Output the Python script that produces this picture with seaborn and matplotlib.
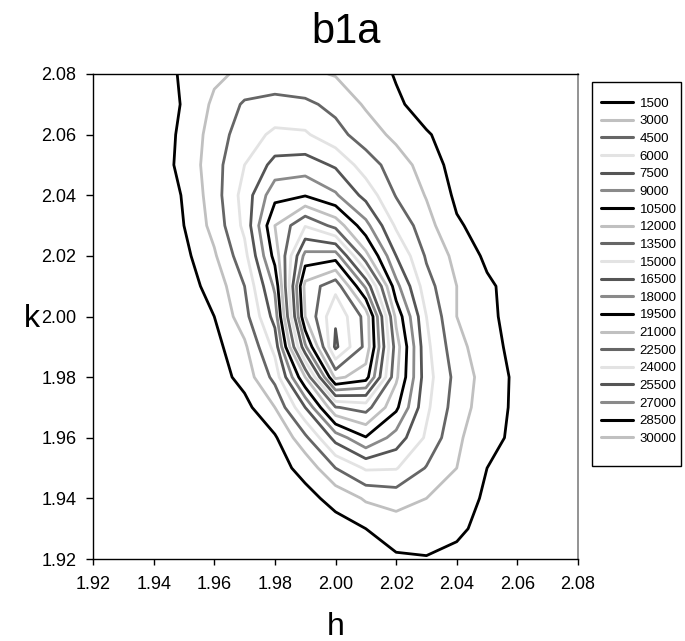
import numpy as np
import matplotlib
matplotlib.use("Agg")
import matplotlib.pyplot as plt
from matplotlib.lines import Line2D
from matplotlib.patches import Rectangle
from matplotlib.ticker import FormatStrFormatter
import seaborn as sns

sns.set_style("ticks")
plt.rcParams['font.family'] = ['Liberation Sans', 'DejaVu Sans']
plt.rcParams['text.color'] = '#000000'
plt.rcParams['axes.labelcolor'] = '#000000'
plt.rcParams['xtick.color'] = '#000000'
plt.rcParams['ytick.color'] = '#000000'

# ---------------- data ----------------
h_values = [1.92, 1.93, 1.94, 1.95, 1.96, 1.97, 1.98, 1.99, 2.00,
            2.01, 2.02, 2.03, 2.04, 2.05, 2.06, 2.07, 2.08]
k_values = [1.92, 1.93, 1.94, 1.95, 1.96, 1.97, 1.98, 1.99, 2.00,
            2.01, 2.02, 2.03, 2.04, 2.05, 2.06, 2.07, 2.08]
levels = [1500, 3000, 4500, 6000, 7500, 9000, 10500, 12000, 13500, 15000,
          16500, 18000, 19500, 21000, 22500, 24000, 25500, 27000, 28500, 30000]
tick_values = [1.92, 1.94, 1.96, 1.98, 2.00, 2.02, 2.04, 2.06, 2.08]

# counts on the (h, k) grid, one row per k value (columns follow h_values)
counts_k192 = [100, 100, 100, 100, 100, 100, 100, 300, 600, 900, 1300, 1400, 1100, 600, 300, 100, 100]
counts_k193 = [100, 100, 100, 100, 100, 100, 200, 500, 1000, 1500, 2200, 2300, 1800, 1000, 500, 200, 100]
counts_k194 = [100, 100, 100, 100, 100, 200, 400, 1100, 1900, 3200, 3600, 3000, 2100, 1300, 600, 300, 100]
counts_k195 = [100, 100, 100, 100, 150, 300, 1000, 1900, 4500, 6200, 6100, 4400, 3000, 1500, 700, 300, 150]
counts_k196 = [100, 100, 100, 150, 300, 700, 1300, 4125, 8100, 10400, 8380, 5750, 3250, 2040, 1100, 500, 200]
counts_k197 = [100, 100, 100, 200, 400, 1000, 3000, 7500, 13400, 14100, 10830, 6300, 3750, 2190, 1200, 600, 250]
counts_k198 = [100, 100, 200, 400, 700, 2060, 5000, 12000, 21400, 20170, 12300, 6600, 4000, 2300, 1200, 600, 250]
counts_k199 = [100, 150, 250, 500, 1000, 2700, 6500, 17700, 25800, 22070, 12750, 6375, 3500, 2080, 1000, 500, 200]
counts_k200 = [100, 200, 400, 900, 1500, 3900, 8100, 21000, 25300, 21950, 11600, 6000, 3000, 1850, 900, 400, 200]
counts_k201 = [100, 200, 400, 900, 2000, 4500, 9300, 21500, 23500, 17700, 9500, 5100, 3000, 1750, 900, 400, 200]
counts_k202 = [100, 200, 500, 1100, 2800, 5500, 11050, 18500, 18800, 12500, 7500, 4300, 2550, 1200, 700, 300, 150]
counts_k203 = [100, 300, 800, 1500, 3500, 6375, 12000, 14900, 13000, 9500, 5750, 3560, 1690, 900, 500, 250, 100]
counts_k204 = [100, 250, 600, 1600, 3800, 6600, 10000, 10400, 9200, 7000, 4400, 2900, 1200, 600, 300, 150, 100]
counts_k205 = [100, 300, 700, 1900, 3900, 6000, 8000, 8200, 7300, 5200, 3800, 2300, 900, 500, 250, 100, 100]
counts_k206 = [100, 300, 700, 1800, 3700, 5300, 6300, 6200, 5000, 3800, 2600, 1600, 1000, 500, 250, 100, 100]
counts_k207 = [100, 300, 800, 1600, 3300, 4700, 5000, 4800, 4100, 2800, 1700, 1000, 500, 250, 100, 100, 100]
counts_k208 = [100, 250, 800, 1700, 2700, 3300, 3500, 3300, 2900, 2200, 1400, 800, 400, 200, 100, 100, 100]

# ---------------- styles ----------------
gray_cycle = ['#000000', '#c0c0c0', '#666666', '#e3e3e3', '#555555', '#8a8a8a']
line_colors = [gray_cycle[i % len(gray_cycle)] for i in range(len(levels))]

Z = np.array([counts_k192, counts_k193, counts_k194, counts_k195, counts_k196,
              counts_k197, counts_k198, counts_k199, counts_k200, counts_k201,
              counts_k202, counts_k203, counts_k204, counts_k205, counts_k206,
              counts_k207, counts_k208], dtype=float)
H, K = np.meshgrid(h_values, k_values)

W, Hh = 685, 641
fig = plt.figure(figsize=(W / 100, Hh / 100), dpi=100)
ax = fig.add_axes([93 / W, (Hh - 559) / Hh, 485 / W, 485 / Hh])

ax.contour(H, K, Z, levels=levels, colors=line_colors, linewidths=2.0)

ax.set_xlim(1.92, 2.08)
ax.set_ylim(1.92, 2.08)
ax.set_xticks(tick_values)
ax.set_yticks(tick_values)
ax.xaxis.set_major_formatter(FormatStrFormatter('%.2f'))
ax.yaxis.set_major_formatter(FormatStrFormatter('%.2f'))
ax.tick_params(axis='x', direction='out', length=4, width=1, pad=8,
               labelsize=13, color='#000000', labelcolor='#000000')
ax.tick_params(axis='y', direction='out', length=5, width=1, pad=7,
               labelsize=13, color='#000000', labelcolor='#000000')
ax.grid(False)
for side in ['left', 'bottom', 'top']:
    ax.spines[side].set_color('#000000')
    ax.spines[side].set_linewidth(1.0)
    ax.spines[side].set_visible(True)
ax.spines['right'].set_color('#808080')
ax.spines['right'].set_linewidth(1.2)
ax.spines['right'].set_visible(True)

fig.text(346 / W, (Hh - 43) / Hh, 'b1a', fontsize=30, ha='center',
         va='baseline', color='#000000')
fig.text(336 / W, (Hh - 635) / Hh, 'h', fontsize=23, ha='center',
         va='baseline', color='#000000')
fig.text(32 / W, (Hh - 319) / Hh, 'k', fontsize=23, ha='center',
         va='center', color='#000000')

# legend frame
fig.patches.append(Rectangle((592 / W, (Hh - 466) / Hh), 89 / W, 384 / Hh,
                             transform=fig.transFigure, facecolor='white',
                             edgecolor='#000000', linewidth=1.0, zorder=2))

handles = [Line2D([0], [0], color=c, linewidth=2.2) for c in line_colors]
labels = [str(v) for v in levels]
leg = fig.legend(handles, labels, loc='upper left',
                 bbox_to_anchor=(601 / W, (Hh - 97.5) / Hh),
                 bbox_transform=fig.transFigure, borderaxespad=0,
                 fontsize=9.5, frameon=False, borderpad=0,
                 handlelength=2.4, handletextpad=0.53, labelspacing=0.41)
leg.set_zorder(3)
for t in leg.get_texts():
    t.set_color('#000000')

fig.savefig('out.png', dpi=100)
